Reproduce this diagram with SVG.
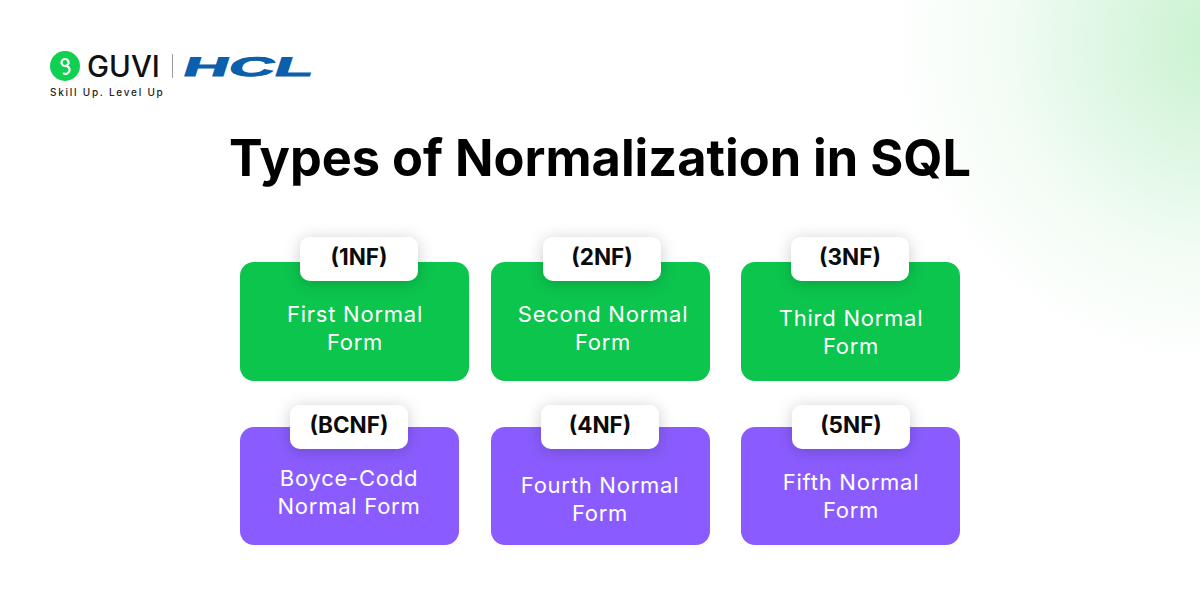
<svg xmlns="http://www.w3.org/2000/svg" width="1200" height="600" viewBox="0 0 1200 600">
<style>
text{font-family:"Inter","Liberation Sans",sans-serif}
.title{font-size:50.500px;font-weight:700;fill:#000;text-anchor:middle}
.tag{font-size:22.500px;font-weight:700;fill:#0b0b0b;text-anchor:middle}
.lab{font-size:22px;font-weight:400;letter-spacing:0.750px;fill:#fff;text-anchor:middle}
.g{fill:#0bc54d}
.p{fill:#8a5cff}
.pill{fill:#fff;filter:url(#sh)}
</style>
<defs>
<radialGradient id="glow" gradientUnits="userSpaceOnUse" cx="1220" cy="40" r="330">
<stop offset="0" stop-color="#c9f2cf"/>
<stop offset="0.3" stop-color="#dbf6e1"/>
<stop offset="0.65" stop-color="#f2fcf4"/>
<stop offset="1" stop-color="#ffffff"/>
</radialGradient>
<filter id="sh" x="-30%" y="-50%" width="160%" height="200%">
<feDropShadow dx="0" dy="2" stdDeviation="8" flood-color="#000" flood-opacity="0.2"/>
</filter>
</defs>
<rect width="1200" height="600" fill="#fff"/>
<rect x="880" y="0" width="320" height="380" fill="url(#glow)"/>
<g id="logo">
<circle cx="65" cy="66" r="15" fill="#0fd051"/>
<path d="M65 59a3.500 3.500 0 1 0 0.100 0M65 66a4 4 0 1 1-2 7" fill="none" stroke="#fff" stroke-width="2.200"/>
<text x="87" y="77" font-size="29.500" font-weight="500" fill="#111">GUVI</text>
<rect x="172" y="54" width="1" height="24" fill="#9a9a9a"/>
<text transform="translate(181 76) skewX(-18) scale(2.430 1.030)" font-size="26" font-weight="900" fill="#0b60ad" stroke="#0b60ad" stroke-width="0.900" style="font-family:'Liberation Sans',sans-serif">HCL</text>
<text x="50" y="96" font-size="10" font-weight="500" letter-spacing="1.750" fill="#222">Skill Up. Level Up</text>
</g>
<text class="title" x="600" y="176" id="title">Types of Normalization in SQL</text>
<g id="node-1nf"><rect class="g" x="240" y="262" width="229" height="119" rx="14"/><rect class="pill" x="300" y="237" width="118" height="44" rx="10"/><text class="tag" x="359" y="265">(1NF)</text><text class="lab" x="355" y="322">First Normal</text><text class="lab" x="355" y="350">Form</text></g>
<g id="node-2nf"><rect class="g" x="491" y="262" width="219" height="119" rx="14"/><rect class="pill" x="543" y="237" width="118" height="44" rx="10"/><text class="tag" x="602" y="265">(2NF)</text><text class="lab" x="603" y="322">Second Normal</text><text class="lab" x="603" y="350">Form</text></g>
<g id="node-3nf"><rect class="g" x="741" y="262" width="219" height="119" rx="14"/><rect class="pill" x="791" y="237" width="118" height="44" rx="10"/><text class="tag" x="850" y="265">(3NF)</text><text class="lab" x="851" y="326">Third Normal</text><text class="lab" x="851" y="354">Form</text></g>
<g id="node-bcnf"><rect class="p" x="240" y="427" width="219" height="118" rx="14"/><rect class="pill" x="290" y="405" width="118" height="44" rx="10"/><text class="tag" x="349" y="433">(BCNF)</text><text class="lab" x="349" y="486">Boyce-Codd</text><text class="lab" x="349" y="514">Normal Form</text></g>
<g id="node-4nf"><rect class="p" x="491" y="427" width="219" height="118" rx="14"/><rect class="pill" x="541" y="405" width="118" height="44" rx="10"/><text class="tag" x="600" y="433">(4NF)</text><text class="lab" x="600" y="493">Fourth Normal</text><text class="lab" x="600" y="521">Form</text></g>
<g id="node-5nf"><rect class="p" x="741" y="427" width="219" height="118" rx="14"/><rect class="pill" x="792" y="405" width="118" height="44" rx="10"/><text class="tag" x="851" y="433">(5NF)</text><text class="lab" x="851" y="490">Fifth Normal</text><text class="lab" x="851" y="518">Form</text></g>
<g id="connectors"/>
</svg>
